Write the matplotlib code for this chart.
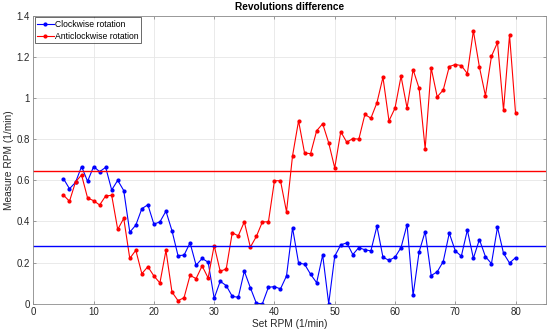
import matplotlib.pyplot as plt
import numpy as np

plt.rcParams['font.family'] = ['Liberation Sans', 'DejaVu Sans']

set_rpm = np.arange(5, 81)

clockwise = [0.608, 0.559, 0.590, 0.667, 0.595, 0.667, 0.642, 0.663, 0.553, 0.600,
             0.550, 0.348, 0.382, 0.462, 0.481, 0.387, 0.398, 0.450, 0.355, 0.234,
             0.236, 0.296, 0.187, 0.220, 0.202, 0.026, 0.109, 0.088, 0.036, 0.031,
             0.158, 0.078, 0.002, 0.000, 0.080, 0.083, 0.072, 0.135, 0.369, 0.198,
             0.192, 0.143, 0.102, 0.237, 0.000, 0.231, 0.286, 0.296, 0.239, 0.273,
             0.262, 0.257, 0.377, 0.226, 0.211, 0.226, 0.273, 0.385, 0.041, 0.252,
             0.351, 0.137, 0.155, 0.205, 0.343, 0.257, 0.231, 0.358, 0.221, 0.312,
             0.229, 0.195, 0.372, 0.245, 0.198, 0.224]

anticlockwise = [0.528, 0.498, 0.592, 0.626, 0.514, 0.501, 0.480, 0.524, 0.527, 0.361,
                 0.415, 0.220, 0.260, 0.146, 0.180, 0.135, 0.101, 0.259, 0.057, 0.015,
                 0.029, 0.138, 0.122, 0.184, 0.125, 0.283, 0.158, 0.169, 0.345, 0.330,
                 0.398, 0.275, 0.327, 0.398, 0.398, 0.598, 0.598, 0.447, 0.719, 0.889,
                 0.732, 0.730, 0.841, 0.875, 0.782, 0.660, 0.836, 0.785, 0.803, 0.800,
                 0.920, 0.902, 0.977, 1.101, 0.889, 0.951, 1.106, 0.951, 1.138, 1.047,
                 0.753, 1.146, 1.006, 1.039, 1.153, 1.163, 1.158, 1.119, 1.327, 1.151,
                 1.011, 1.203, 1.270, 0.941, 1.306, 0.925]

mean_clockwise = 0.280
mean_anticlockwise = 0.647

blue = '#0000ff'
red = '#ff0000'

fig = plt.figure(figsize=(5.5, 3.36), dpi=100)
ax = fig.add_axes([0.0606, 0.0961, 0.9316, 0.857])

ax.plot(set_rpm, clockwise, '.-', color=blue, lw=0.8, ms=4, label='Clockwise rotation')
ax.plot(set_rpm, anticlockwise, '.-', color=red, lw=0.8, ms=4, label='Anticlockwise rotation')
ax.axhline(mean_clockwise, color=blue, lw=1.0)
ax.axhline(mean_anticlockwise, color=red, lw=1.0)

ax.set_xlim(0, 85)
ax.set_ylim(0, 1.4)
ax.set_xticks(np.arange(0, 81, 10))
ax.set_yticks(np.arange(0, 1.41, 0.2))
ax.set_yticklabels(['0', '0.2', '0.4', '0.6', '0.8', '1', '1.2', '1.4'])
ax.grid(True, color='#e6e6e6', lw=0.6)
ax.set_axisbelow(True)
for s in ax.spines.values():
    s.set_color('#8c8c8c')
    s.set_linewidth(0.6)
ax.tick_params(direction='in', length=2.5, width=0.6, color='#8c8c8c',
               labelsize=7, labelcolor='#262626', top=True, right=True, pad=2.5)

ax.set_title('Revolutions difference', fontsize=7.3, fontweight='bold', pad=4)
ax.set_xlabel('Set RPM (1/min)', fontsize=7.3, color='#262626', labelpad=1.5)
ax.set_ylabel('Measure RPM (1/min)', fontsize=7.3, color='#262626', labelpad=1.5)

leg = ax.legend(loc='upper left', fontsize=6.2, frameon=True, fancybox=False,
                borderaxespad=0.15, handlelength=1.9, handletextpad=0.2,
                borderpad=0.3, labelspacing=0.35)
leg.get_frame().set_edgecolor('#262626')
leg.get_frame().set_linewidth(0.6)

fig.savefig('out.png', dpi=100)
